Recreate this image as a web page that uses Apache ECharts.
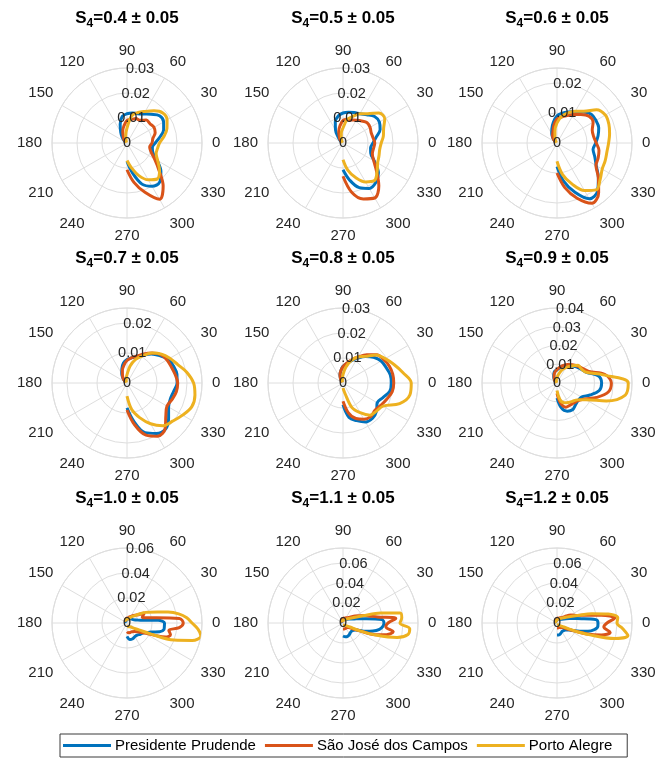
<!DOCTYPE html>
<html><head><meta charset="utf-8">
<script src="https://cdn.jsdelivr.net/npm/echarts@6/dist/echarts.min.js"></script>
<style>html,body{margin:0;padding:0;background:#fff}#c{width:669px;height:759px}</style>
</head><body><div id="c"></div>
<script>
const seriesNames = ['Presidente Prudende', 'São José dos Campos', 'Porto Alegre'];
const seriesColors = ['#0072BD', '#D95319', '#EDB120'];
const panelS4 = ['0.4', '0.5', '0.6', '0.7', '0.8', '0.9', '1.0', '1.1', '1.2'];
const rMax = [0.03, 0.03, 0.025, 0.025, 0.03, 0.04, 0.06, 0.075, 0.075];
const rStep = [0.01, 0.01, 0.01, 0.01, 0.01, 0.01, 0.02, 0.02, 0.02];
const rTickLabels = [
  ['0', '0.01', '0.02', '0.03'], ['0', '0.01', '0.02', '0.03'], ['0', '0.01', '0.02'],
  ['0', '0.01', '0.02'], ['0', '0.01', '0.02', '0.03'], ['0', '0.01', '0.02', '0.03', '0.04'],
  ['0', '0.02', '0.04', '0.06'], ['0', '0.02', '0.04', '0.06'], ['0', '0.02', '0.04', '0.06']
];
const angleTicks = [0, 30, 60, 90, 120, 150, 180, 210, 240, 270, 300, 330];

// azimuth samples (degrees)
const anglesCoarse = [-90,-80,-70,-60,-50,-40,-30,-20,-10,0,10,20,30,40,50,60,70,80,90,100,110,120,130,140,150];
const anglesFine = [-90,-80,-70,-60,-50,-40,-30,-25,-20,-15,-10,-5,0,5,10,15,20,30,40,50,60,70,80,90,100,110,120,130,140,150];

// S4 = 0.4
const pp04 = [0.0073,0.012,0.0175,0.020,0.0204,0.0177,0.0139,0.011,0.0103,0.0113,0.0133,0.0156,0.0169,0.017,0.015,0.0134,0.0125,0.0122,0.0117,0.0108,0.008,0.005,0.003,0.0015,0.0005];
const sj04 = [0.0107,0.016,0.021,0.026,0.0225,0.0166,0.0127,0.0102,0.0092,0.010,0.0105,0.012,0.0125,0.012,0.012,0.0105,0.0104,0.0095,0.009,0.007,0.005,0.003,0.002,0.001,0.0005];
const pa04 = [0.007,0.010,0.0139,0.017,0.0188,0.017,0.0142,0.0124,0.0124,0.013,0.015,0.017,0.0185,0.0187,0.0168,0.0146,0.013,0.011,0.006,0.003,0.001,0.0005,0.0003,0.0002,0.0001];
// S4 = 0.5
const pp05 = [0.0107,0.015,0.019,0.021,0.0205,0.0185,0.0145,0.0118,0.0112,0.012,0.0135,0.0158,0.0168,0.0165,0.0148,0.0135,0.013,0.0125,0.012,0.011,0.009,0.006,0.003,0.0015,0.0005];
const sj05 = [0.0133,0.020,0.0238,0.0254,0.0223,0.0175,0.0142,0.0125,0.0124,0.0127,0.0122,0.012,0.0125,0.0126,0.0115,0.0105,0.0098,0.0095,0.009,0.007,0.005,0.003,0.002,0.001,0.0005];
const pa05 = [0.0067,0.011,0.0147,0.018,0.0196,0.0178,0.016,0.0153,0.0149,0.0153,0.0164,0.0173,0.0193,0.0187,0.0153,0.0135,0.0113,0.0095,0.006,0.004,0.002,0.001,0.0005,0.0003,0.0002];
// S4 = 0.6
const pp06 = [0.0078,0.013,0.0175,0.0215,0.021,0.018,0.0151,0.0134,0.0122,0.0129,0.0139,0.0148,0.015,0.0149,0.0135,0.0121,0.011,0.0101,0.0091,0.007,0.005,0.0035,0.002,0.001,0.0005];
const sj06 = [0.010,0.0151,0.0196,0.0232,0.0216,0.018,0.015,0.0146,0.0142,0.0131,0.0124,0.0125,0.0139,0.0139,0.0124,0.011,0.0097,0.0088,0.008,0.006,0.004,0.003,0.002,0.001,0.0005];
const pa06 = [0.0061,0.0107,0.0145,0.0183,0.0204,0.0188,0.0174,0.0171,0.0169,0.0172,0.0178,0.0184,0.0186,0.0172,0.0138,0.0122,0.0107,0.009,0.0067,0.004,0.002,0.001,0.0005,0.0003,0.0002];
// S4 = 0.7
const pp07 = [0.0083,0.0129,0.0176,0.0194,0.020,0.0181,0.016,0.0154,0.0158,0.0167,0.0169,0.0165,0.0159,0.0142,0.0126,0.0107,0.0094,0.0085,0.0078,0.0068,0.005,0.0035,0.002,0.001,0.0005];
const sj07 = [0.009,0.014,0.0185,0.0205,0.0198,0.0169,0.0154,0.016,0.0167,0.0169,0.0163,0.0157,0.0154,0.0147,0.013,0.0112,0.0095,0.0085,0.0075,0.006,0.0045,0.003,0.002,0.001,0.0005];
const pa07 = [0.0044,0.009,0.0123,0.0157,0.0186,0.0198,0.0214,0.023,0.023,0.0222,0.0203,0.018,0.0165,0.015,0.013,0.0105,0.0084,0.0057,0.0028,0.0015,0.0008,0.0005,0.0003,0.0002,0.0001];
// S4 = 0.8
const pp08 = [0.0087,0.014,0.016,0.018,0.0184,0.0175,0.0158,0.017,0.019,0.0193,0.0192,0.0183,0.0176,0.016,0.0139,0.0114,0.0094,0.0078,0.0067,0.005,0.0035,0.002,0.001,0.0005,0.0003];
const sj08 = [0.0073,0.012,0.0151,0.0167,0.0174,0.0168,0.0176,0.0187,0.020,0.0203,0.0202,0.0197,0.0188,0.0176,0.0148,0.012,0.0098,0.008,0.0065,0.005,0.0035,0.002,0.001,0.0005,0.0003];
const pa08 = [0.002,0.004,0.0105,0.0137,0.0168,0.0175,0.0185,0.0241,0.0272,0.0273,0.0243,0.0217,0.0195,0.0175,0.0139,0.012,0.0095,0.0064,0.0033,0.0015,0.0007,0.0003,0.0002,0.0001,0.0001];
// S4 = 0.9
const pp09 = [0.008,0.0135,0.016,0.0165,0.0153,0.0147,0.015,0.0187,0.0229,0.0238,0.0223,0.0167,0.0148,0.0134,0.0118,0.0104,0.0096,0.0082,0.007,0.0065,0.005,0.0035,0.002,0.001,0.0005];
const sj09 = [0.0055,0.0108,0.0137,0.0137,0.0139,0.0146,0.017,0.0225,0.0278,0.029,0.026,0.018,0.0157,0.0141,0.0127,0.0114,0.010,0.0085,0.0072,0.006,0.0045,0.003,0.002,0.001,0.0005];
const pa09 = [0.004,0.009,0.0112,0.012,0.0128,0.014,0.0178,0.028,0.037,0.038,0.025,0.0167,0.015,0.0147,0.0118,0.0095,0.0073,0.0046,0.003,0.002,0.001,0.0005,0.0003,0.0002,0.0001];
// S4 = 1.0 (fine azimuths)
const pp10 = [0.0107,0.0135,0.0134,0.0126,0.0126,0.014,0.0155,0.018,0.021,0.027,0.030,0.030,0.030,0.025,0.013,0.009,0.007,0.0055,0.005,0.0045,0.004,0.0035,0.003,0.003,0.0028,0.0025,0.002,0.0015,0.001,0.0005];
const sj10 = [0.007,0.008,0.008,0.008,0.009,0.011,0.016,0.022,0.033,0.036,0.034,0.042,0.045,0.042,0.024,0.016,0.013,0.016,0.010,0.008,0.006,0.005,0.004,0.004,0.0035,0.003,0.0025,0.002,0.0015,0.001];
const pa10 = [0.003,0.003,0.003,0.0035,0.004,0.006,0.011,0.020,0.040,0.054,0.060,0.057,0.052,0.048,0.042,0.034,0.026,0.017,0.010,0.007,0.005,0.004,0.003,0.003,0.003,0.003,0.0025,0.002,0.0015,0.001];
// S4 = 1.1
const pp11 = [0.013,0.014,0.014,0.013,0.012,0.012,0.014,0.017,0.024,0.031,0.037,0.040,0.041,0.039,0.024,0.016,0.012,0.008,0.006,0.005,0.0045,0.004,0.0035,0.003,0.003,0.0025,0.002,0.0015,0.001,0.0005];
const sj11 = [0.006,0.006,0.006,0.006,0.006,0.007,0.012,0.018,0.034,0.045,0.051,0.043,0.045,0.053,0.035,0.027,0.022,0.014,0.009,0.007,0.006,0.005,0.005,0.0045,0.004,0.0035,0.003,0.002,0.0015,0.001];
const pa11 = [0.002,0.002,0.002,0.0025,0.003,0.004,0.008,0.018,0.036,0.056,0.066,0.067,0.057,0.059,0.058,0.039,0.021,0.010,0.007,0.005,0.004,0.003,0.003,0.003,0.0025,0.002,0.0015,0.001,0.0008,0.0005];
// S4 = 1.2
const pp12 = [0.012,0.012,0.011,0.010,0.010,0.011,0.014,0.018,0.024,0.032,0.038,0.041,0.041,0.039,0.025,0.017,0.013,0.008,0.006,0.005,0.0045,0.004,0.0035,0.003,0.003,0.0025,0.002,0.0015,0.001,0.0005];
const sj12 = [0.005,0.005,0.005,0.005,0.006,0.007,0.012,0.018,0.032,0.046,0.054,0.047,0.050,0.058,0.045,0.030,0.022,0.016,0.010,0.007,0.006,0.005,0.005,0.004,0.0035,0.003,0.0025,0.002,0.0015,0.001];
const pa12 = [0.002,0.002,0.002,0.002,0.003,0.004,0.008,0.017,0.034,0.060,0.072,0.066,0.060,0.061,0.052,0.036,0.022,0.012,0.008,0.006,0.005,0.004,0.0035,0.003,0.003,0.0025,0.002,0.0015,0.001,0.0005];

const panelData = [
  [pp04, sj04, pa04], [pp05, sj05, pa05], [pp06, sj06, pa06],
  [pp07, sj07, pa07], [pp08, sj08, pa08], [pp09, sj09, pa09],
  [pp10, sj10, pa10], [pp11, sj11, pa11], [pp12, sj12, pa12]
];
const panelAngles = [anglesCoarse, anglesCoarse, anglesCoarse, anglesCoarse, anglesCoarse, anglesCoarse, anglesFine, anglesFine, anglesFine];

// layout
const colX = [127, 343, 557];
const rowY = [143, 383, 623];
const R = 75;
const FONT = 'Liberation Sans, Arial, Helvetica, sans-serif';
const TXT = '#262626';
const GRID = '#dedede';

const polar = [], angleAxis = [], radiusAxis = [], series = [], title = [];
panelS4.forEach((s4, i) => {
  const cx = colX[i % 3], cy = rowY[Math.floor(i / 3)];
  const pMain = 2 * i, pLab = 2 * i + 1;
  polar.push({ center: [cx, cy], radius: R });
  polar.push({ center: [cx, cy], radius: R });
  angleAxis.push({
    polarIndex: pMain, type: 'value', min: 0, max: 360, interval: 30,
    startAngle: 0, clockwise: false,
    axisLine: { show: true, lineStyle: { color: GRID, width: 1 } },
    axisTick: { show: false },
    splitLine: { show: true, lineStyle: { color: GRID, width: 1 } },
    axisLabel: {
      show: true, margin: 10, color: TXT, fontSize: 15, fontFamily: FONT,
      formatter: v => angleTicks.indexOf(v) >= 0 ? String(v) : ''
    }
  });
  angleAxis.push({ polarIndex: pLab, type: 'value', min: 0, max: 360, startAngle: 80, show: false });
  radiusAxis.push({
    polarIndex: pMain, type: 'value', min: 0, max: rMax[i], interval: rStep[i],
    axisLine: { show: false }, axisTick: { show: false }, axisLabel: { show: false },
    splitLine: { show: true, lineStyle: { color: GRID, width: 1 } }
  });
  const labs = rTickLabels[i];
  radiusAxis.push({
    polarIndex: pLab, type: 'value', min: 0, max: rMax[i], interval: rStep[i], z: 10,
    axisLine: { show: false }, axisTick: { show: false }, splitLine: { show: false },
    axisLabel: {
      show: true, margin: 0, align: 'center', verticalAlign: 'middle',
      color: TXT, fontSize: 14.5, fontFamily: FONT,
      formatter: v => {
        const k = Math.round(v / rStep[i]);
        return (Math.abs(v - k * rStep[i]) < 1e-9 && k < labs.length) ? labs[k] : '';
      }
    }
  });
  title.push({
    text: '{s|S}{sub|4}{s|=' + s4 + ' \u00b1 0.05}',
    left: cx, top: cy - 136, textAlign: 'center', padding: 0,
    textStyle: {
      rich: {
        s: { fontSize: 17, fontWeight: 'bold', color: '#000', fontFamily: FONT, lineHeight: 23, verticalAlign: 'middle' },
        sub: { fontSize: 12, fontWeight: 'bold', color: '#000', fontFamily: FONT, lineHeight: 12, verticalAlign: 'bottom' }
      }
    }
  });
  const angs = panelAngles[i];
  panelData[i].forEach((vals, j) => {
    series.push({
      type: 'line', name: seriesNames[j], coordinateSystem: 'polar', polarIndex: pMain,
      data: vals.map((r, k) => [r, (angs[k] + 360) % 360]),
      smooth: 0.35, symbol: 'none', showSymbol: false, clip: false,
      lineStyle: { color: seriesColors[j], width: 3 },
      itemStyle: { color: seriesColors[j] },
      z: 3 + j, silent: true, animation: false
    });
  });
});

const chart = echarts.init(document.getElementById('c'), null, { renderer: 'canvas' });
chart.setOption({
  animation: false,
  backgroundColor: '#fff',
  title, polar, angleAxis, radiusAxis, series,
  legend: {
    data: seriesNames, left: 60, top: 734, orient: 'horizontal',
    icon: 'rect', itemWidth: 48, itemHeight: 3, itemGap: 9,
    borderColor: '#3a3a3a', borderWidth: 1, padding: [4, 15, 4, 3],
    textStyle: { fontSize: 15, color: '#000', fontFamily: FONT, padding: [0, 0, 0, -1] }
  }
});
</script>
</body></html>
